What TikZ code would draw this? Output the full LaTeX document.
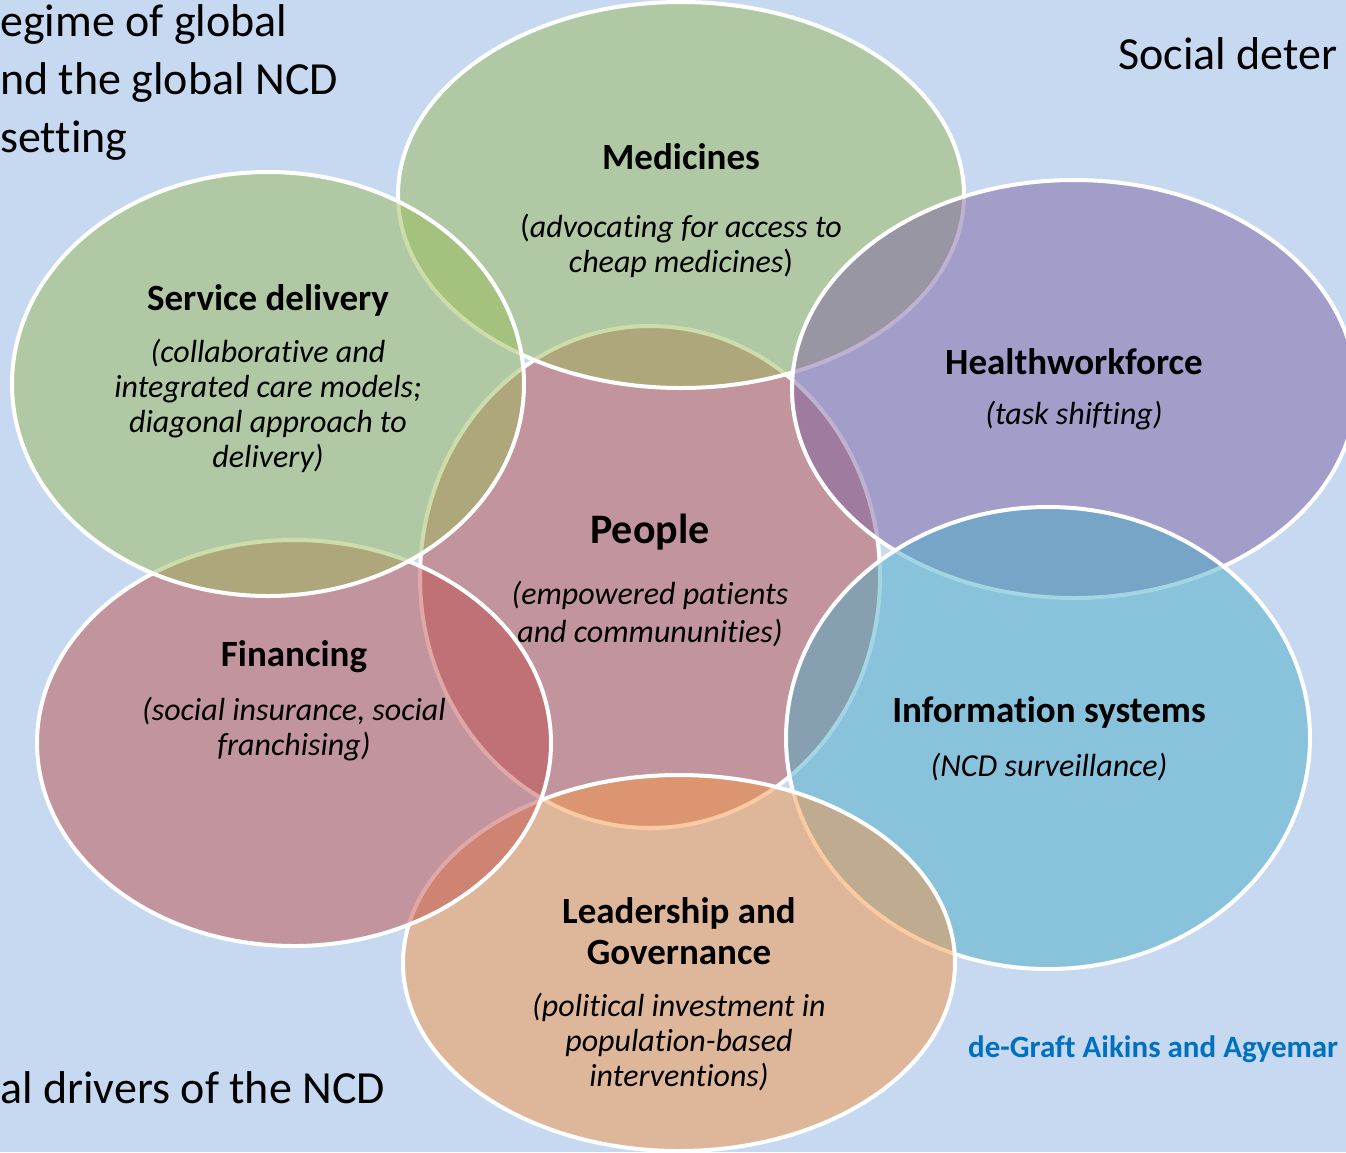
\documentclass[tikz,border=0pt]{standalone}
\usepackage{fontspec}
\setmainfont{Carlito}[Ligatures=NoCommon]

\definecolor{slidebg}{HTML}{C6D9F1}
\definecolor{vgreen}{HTML}{9BBB59}
\definecolor{vpurple}{HTML}{8064A2}
\definecolor{vblue}{HTML}{4BACC6}
\definecolor{vorange}{HTML}{F79646}
\definecolor{vred}{HTML}{C0504D}
\definecolor{citeblue}{HTML}{0070C0}

\tikzset{
	petal/.style={draw=white, line width=4pt, fill opacity=0.5},
	heading/.style={font=\bfseries\fontsize{37}{41}\selectfont, align=center, inner sep=0pt},
	remark/.style={font=\itshape\fontsize{32}{35}\selectfont, align=center, inner sep=0pt},
	slidetext/.style={font=\fontsize{46}{58}\selectfont, inner sep=0pt},
}

\begin{document}
\begin{tikzpicture}[x=1pt, y=-1pt]
		\clip (0,0) rectangle (1346,1152);
		\fill[slidebg] (0,0) rectangle (1346,1152);

		% slide text partly hidden behind the diagram
		\node[slidetext, anchor=west, align=left] (regime) at (0,82)
		{egime of global\\nd the global NCD\\setting};
		\node[slidetext, anchor=west] (social) at (1118,54) {Social deter};
		\node[slidetext, anchor=west] (drivers) at (0,1088) {al drivers of the NCD};
		\node[font=\bfseries\fontsize{31}{36}\selectfont, text=citeblue, anchor=west, inner sep=0pt]
		(cite) at (968,1049) {de-Graft Aikins and Agyemar};

		% centre first, then the outer ones clockwise from the top
		\foreach \cx/\cy/\rx/\ry/\col in {
				650/577/230/251/vred,
				681/195/283/193/vgreen,
				1074/389/282/209/vpurple,
				1048/738/262/231/vblue,
				679/963/276/188/vorange,
				294/743/257/203/vred,
				268/384/256/212/vgreen} {
				\filldraw[petal, fill=\col] (\cx,\cy) ellipse [x radius=\rx pt, y radius=\ry pt];
			}

		\node[heading, font=\bfseries\fontsize{42}{46}\selectfont] (people) at (650,532) {People};
		\node[remark, font=\itshape\fontsize{32}{38}\selectfont] (people-note) at (650,614)
		{(empowered patients\\and commununities)};

		\node[heading] (medicines) at (681,157) {Medicines};
		\node[remark] (medicines-note) at (681,246)
		{\upshape(\itshape advocating for access to\\cheap medicines\upshape)};

		\node[heading] (workforce) at (1074,362) {Healthworkforce};
		\node[remark] (workforce-note) at (1074,416) {(task shifting)};

		\node[heading] (info) at (1049,712) {Information systems};
		\node[remark] (info-note) at (1049,767) {(NCD surveillance)};

		\node[heading] (leadership) at (679,931) {Leadership and\\Governance};
		\node[remark] (leadership-note) at (679,1042)
		{(political investment in\\population-based\\interventions)};

		\node[heading] (financing) at (294,657) {Financing};
		\node[remark] (financing-note) at (294,729)
		{(social insurance, social\\franchising)};

		\node[heading] (service) at (268,300) {Service delivery};
		\node[remark] (service-note) at (268,406)
		{(collaborative and\\integrated care models;\\diagonal approach to\\delivery)};
	\end{tikzpicture}
\end{document}
